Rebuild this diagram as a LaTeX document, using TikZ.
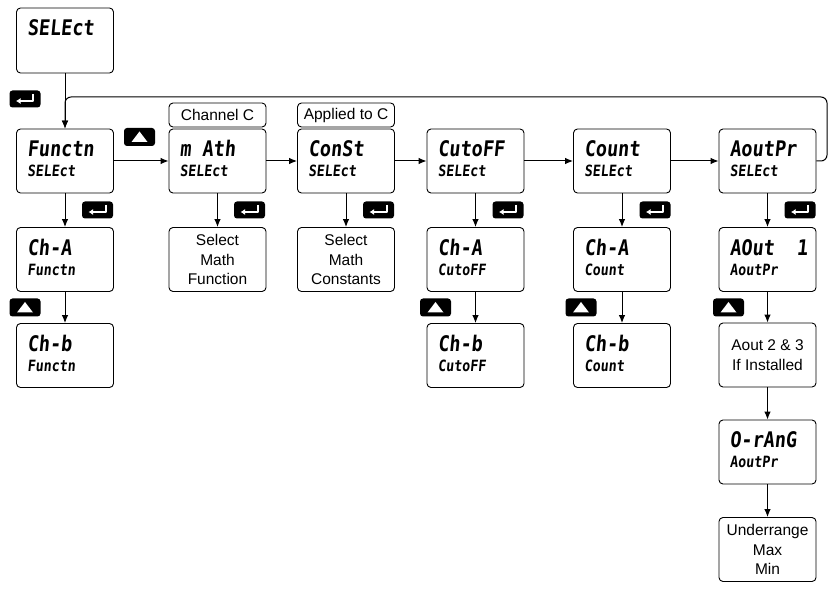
\documentclass[tikz,border=0pt]{standalone}
\usepackage{fontspec}
\setmainfont{Liberation Sans}
\newfontfamily\lcdfont[FakeSlant=0.1,FakeStretch=0.86]{DejaVu Sans Mono Bold}
\usetikzlibrary{arrows.meta,calc}
\tikzset{
 dispbox/.style={draw, rounded corners=4pt, minimum width=97pt, minimum height=64pt, inner sep=0pt, line width=0.9pt},
 lcdbig/.style={font=\lcdfont\fontsize{21.5}{22}\selectfont, inner sep=0pt, anchor=base west},
 lcdsmall/.style={font=\lcdfont\fontsize{15.5}{16}\selectfont, inner sep=0pt, anchor=base west},
 txtbox/.style={draw, rounded corners=4pt, minimum width=97pt, minimum height=64pt, align=center, font=\fontsize{15.5}{19.5}\selectfont, inner sep=0pt, line width=0.9pt},
 tagbox/.style={draw, rounded corners=4pt, minimum width=97pt, minimum height=24pt, font=\fontsize{15.5}{18}\selectfont, inner sep=0pt, line width=0.9pt},
 enterkey/.style={fill=black, rounded corners=3pt, minimum width=31pt, minimum height=17pt, inner sep=0pt},
 upkey/.style={fill=black, rounded corners=3pt, minimum width=31pt, minimum height=18pt, inner sep=0pt},
 arr/.style={-{Latex[length=8pt,width=6.5pt]}, line width=1pt},
}
\newcommand\lcdbox[5]{%
 \node[dispbox] (#1) at (#2,#3) {};
 \node[lcdbig] (#1-t) at ($(#1.north west)+(11,28)$) {#4};
 \node[lcdsmall] (#1-b) at ($(#1.north west)+(11,48)$) {#5};}
\newcommand\enterkeyat[3]{%
 \node[enterkey] (#1) at (#2,#3) {};
 \draw[white, line width=2pt, line join=round, -{Latex[length=4.5pt,width=6pt]}] ($(#1)+(8,-5)$) -- ($(#1)+(8,2)$) -- ($(#1)+(-9,2)$);}
\newcommand\upkeyat[3]{%
 \node[upkey] (#1) at (#2,#3) {};
 \fill[white] ($(#1)+(-8,5)$) -- ($(#1)+(8,5)$) -- ($(#1)+(0,-5.5)$) -- cycle;}
\begin{document}
\begin{tikzpicture}[x=1pt,y=-1pt]
\useasboundingbox (0,0) rectangle (835,593);
% top select box
\node[dispbox, minimum height=65pt] (sel) at (65,40.5) {};
\node[lcdbig] (sel-t) at ($(sel.north west)+(11,28)$) {SELEct};
% row 1
\lcdbox{fn}{65}{161}{Functn}{SELEct}
\lcdbox{ma}{217.5}{161}{m Ath}{SELEct}
\lcdbox{cs}{346}{161}{ConSt}{SELEct}
\lcdbox{co}{475.5}{161}{CutoFF}{SELEct}
\lcdbox{cn}{622}{161}{Count}{SELEct}
\lcdbox{ao}{767.5}{161}{AoutPr}{SELEct}
% tags
\node[tagbox] (tagC) at (217.5,115) {Channel C};
\node[tagbox] (tagA) at (346,115) {Applied to C};
% row 2
\lcdbox{fnA}{65}{259.5}{Ch-A}{Functn}
\node[txtbox] (maS) at (217.5,259.5) {Select\\Math\\Function};
\node[txtbox] (csS) at (346,259.5) {Select\\Math\\Constants};
\lcdbox{coA}{475.5}{259.5}{Ch-A}{CutoFF}
\lcdbox{cnA}{622}{259.5}{Ch-A}{Count}
\lcdbox{aoA}{767.5}{259.5}{AOut\ \ 1}{AoutPr}
% row 3
\lcdbox{fnB}{65}{355.5}{Ch-b}{Functn}
\lcdbox{coB}{475.5}{355.5}{Ch-b}{CutoFF}
\lcdbox{cnB}{622}{355.5}{Ch-b}{Count}
\node[txtbox] (aoB) at (767.5,355) {Aout 2 \& 3\\If Installed};
% rows 4,5
\lcdbox{aoR}{767.5}{452}{O-rAnG}{AoutPr}
\node[txtbox] (aoU) at (767.5,549.5) {Underrange\\Max\\Min};
% keys
\enterkeyat{k0}{25}{99}
\enterkeyat{k1}{97.5}{210}
\enterkeyat{k2}{249.5}{210}
\enterkeyat{k3}{378.5}{210}
\enterkeyat{k4}{508}{210}
\enterkeyat{k5}{655}{210}
\enterkeyat{k6}{800}{210}
\upkeyat{u0}{139.5}{137}
\upkeyat{u1}{25}{307.5}
\upkeyat{u4}{435.5}{307.5}
\upkeyat{u5}{581}{307.5}
\upkeyat{u6}{728.5}{307.5}
% connectors
\coordinate (loopR) at (827,97);
\coordinate (loopL) at (65,97);
\draw[arr] (sel.south) -- (fn.north);
\draw[arr, rounded corners=6pt] (ao.east) -| (loopR) -- (loopL) -- (fn.north);
\draw[arr] (fn) -- (ma);
\draw[arr] (ma) -- (cs);
\draw[arr] (cs) -- (co);
\draw[arr] (co) -- (cn);
\draw[arr] (cn) -- (ao);
\draw[arr] (fn) -- (fnA);
\draw[arr] (fnA) -- (fnB);
\draw[arr] (ma) -- (maS);
\draw[arr] (cs) -- (csS);
\draw[arr] (co) -- (coA);
\draw[arr] (coA) -- (coB);
\draw[arr] (cn) -- (cnA);
\draw[arr] (cnA) -- (cnB);
\draw[arr] (ao) -- (aoA);
\draw[arr] (aoA) -- (aoB);
\draw[arr] (aoB) -- (aoR);
\draw[arr] (aoR) -- (aoU);
\end{tikzpicture}
\end{document}
